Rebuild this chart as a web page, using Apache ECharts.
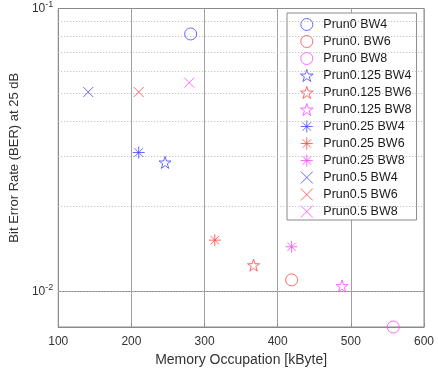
<!DOCTYPE html>
<html>
<head>
<meta charset="utf-8">
<script src="https://cdn.jsdelivr.net/npm/echarts@6/dist/echarts.min.js"></script>
<style>
  html, body { margin: 0; padding: 0; background: #fff; }
  #chart { width: 438px; height: 373px; }
</style>
</head>
<body>
<div id="chart"></div>
<script>
// [memory kByte, BER]
const prun0BW4 = [[281, 0.0813]];
const prun0BW6 = [[419, 0.0110]];
const prun0BW8 = [[558, 0.0075]];
const prun125BW4 = [[246, 0.0286]];
const prun125BW6 = [[367, 0.0124]];
const prun125BW8 = [[488, 0.01047]];
const prun25BW4 = [[210, 0.0310]];
const prun25BW6 = [[314, 0.0152]];
const prun25BW8 = [[419, 0.0144]];
const prun5BW4 = [[141, 0.0507]];
const prun5BW6 = [[210, 0.0507]];
const prun5BW8 = [[279, 0.0547]];

const minorGrid = [0.008, 0.009, 0.02, 0.03, 0.04, 0.05, 0.06, 0.07, 0.08, 0.09];

const BLUE = "#4545ff";
const RED = "#ff4545";
const MAGENTA = "#ff45ff";

const STAR = "path://M0,-100L22.45,-30.9L95.1,-30.9L36.3,11.8L58.8,80.9L0,38.2L-58.8,80.9L-36.3,11.8L-95.1,-30.9L-22.45,-30.9Z";
const ASTER = "path://M0,-100L0,100M-100,0L100,0M-70.7,-70.7L70.7,70.7M-70.7,70.7L70.7,-70.7";
const CROSS = "path://M-100,-100L100,100M-100,100L100,-100";

const mk = (name, data, color, symbol, size) => ({
  name: name,
  type: "scatter",
  data: data,
  symbol: symbol,
  symbolSize: size,
  clip: false,
  itemStyle: { color: "none", borderColor: color, borderWidth: 1 },
  emphasis: { disabled: true },
  z: 5,
});

const series = [
  mk("Prun0 BW4", prun0BW4, BLUE, "circle", 12),
  mk("Prun0. BW6", prun0BW6, RED, "circle", 12),
  mk("Prun0 BW8", prun0BW8, MAGENTA, "circle", 12),
  mk("Prun0.125 BW4", prun125BW4, BLUE, STAR, 12),
  mk("Prun0.125 BW6", prun125BW6, RED, STAR, 12),
  mk("Prun0.125 BW8", prun125BW8, MAGENTA, STAR, 12),
  mk("Prun0.25 BW4", prun25BW4, BLUE, ASTER, 12),
  mk("Prun0.25 BW6", prun25BW6, RED, ASTER, 12),
  mk("Prun0.25 BW8", prun25BW8, MAGENTA, ASTER, 12),
  mk("Prun0.5 BW4", prun5BW4, BLUE, CROSS, 10),
  mk("Prun0.5 BW6", prun5BW6, RED, CROSS, 10),
  mk("Prun0.5 BW8", prun5BW8, MAGENTA, CROSS, 10),
];

// dotted minor grid lines on the log axis
series.push({
  type: "scatter",
  data: [],
  silent: true,
  z: 1,
  markLine: {
    silent: true,
    symbol: "none",
    label: { show: false },
    lineStyle: { color: "#b5b5b5", type: [1, 2], width: 1 },
    data: minorGrid.map((v) => ({ yAxis: v })),
  },
});

const chart = echarts.init(document.getElementById("chart"));
chart.setOption({
  animation: false,
  textStyle: { fontFamily: "Liberation Sans, Arial, sans-serif" },
  grid: {
    left: 57,
    right: 14,
    top: 6,
    bottom: 46,
    show: true,
    borderColor: "#8a8a8a",
    borderWidth: 1,
  },
  legend: {
    orient: "vertical",
    left: 287,
    top: 13,
    itemWidth: 13,
    itemHeight: 12,
    itemGap: 0,
    padding: [3, 5, 0, 11],
    backgroundColor: "#fff",
    borderColor: "#8a8a8a",
    borderWidth: 1,
    itemStyle: { borderWidth: 1 },
    textStyle: { fontSize: 12.5, lineHeight: 13, color: "#1a1a1a", padding: [0, 0, 0, 5] },
    data: series.filter((s) => s.name).map((s) => s.name),
  },
  xAxis: {
    type: "value",
    min: 100,
    max: 600,
    interval: 100,
    name: "Memory Occupation [kByte]",
    nameLocation: "middle",
    nameGap: 24,
    nameTextStyle: { fontSize: 14, color: "#333" },
    axisLine: { lineStyle: { color: "#8a8a8a" } },
    axisTick: { inside: true, length: 4, lineStyle: { color: "#8a8a8a" } },
    axisLabel: { fontSize: 12, color: "#333", margin: 9 },
    splitLine: { show: true, lineStyle: { color: "#a0a0a0", width: 1 } },
  },
  yAxis: {
    type: "log",
    logBase: 10,
    min: 0.0075,
    max: 0.1,
    name: "Bit Error Rate (BER) at 25 dB",
    nameLocation: "middle",
    nameGap: 31,
    nameTextStyle: { fontSize: 13, color: "#333", padding: [0, 0, 0, 20] },
    axisLine: { lineStyle: { color: "#8a8a8a" } },
    axisTick: { show: false },
    axisLabel: {
      fontSize: 12,
      color: "#333",
      margin: 5,
      showMinLabel: false,
      formatter: (v) => {
        const e = Math.log10(v);
        if (Math.abs(e - Math.round(e)) > 1e-6) return "";
        return "{b|10}{e|" + Math.round(e) + "}";
      },
      rich: {
        b: { fontSize: 12, color: "#333" },
        e: { fontSize: 9, color: "#333", verticalAlign: "bottom", padding: [0, 0, 8, 0] },
      },
    },
    splitLine: { show: true, lineStyle: { color: "#8a8a8a", width: 1 } },
  },
  series: series,
});
</script>
</body>
</html>
